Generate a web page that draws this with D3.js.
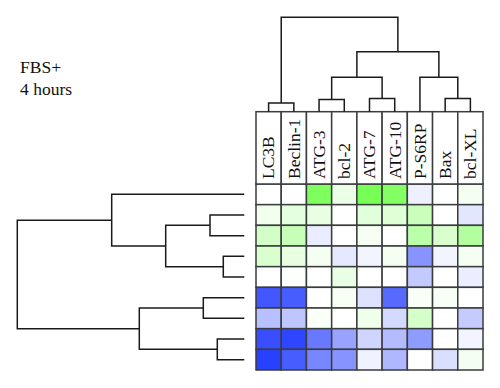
<!DOCTYPE html>
<html>
<head>
<meta charset="utf-8">
<script src="https://cdn.jsdelivr.net/npm/d3@7"></script>
<style>
  html, body { margin: 0; padding: 0; background: #fff; }
  svg { display: block; }
</style>
</head>
<body>
<svg id="chart" width="500" height="388"></svg>
<script>
// ---------------- data ----------------
const titleLines = ["FBS+", "4 hours"];
const columns = ["LC3B", "Beclin-1", "ATG-3", "bcl-2", "ATG-7", "ATG-10", "P-S6RP", "Bax", "bcl-XL"];
const rows = ["r1", "r2", "r3", "r4", "r5", "r6", "r7", "r8", "r9"];
// positive = green (up), negative = blue (down)
const values = [
  [ 0.00,  0.00,  0.95,  0.15,  1.00,  0.92, -0.08,  0.00,  0.08],
  [ 0.10,  0.20,  0.17,  0.00,  0.22,  0.24,  0.40,  0.00, -0.13],
  [ 0.33,  0.42, -0.10,  0.00,  0.06,  0.00,  0.50,  0.28,  0.56],
  [ 0.28,  0.18,  0.08, -0.12, -0.06,  0.08, -0.56, -0.06,  0.08],
  [ 0.00,  0.02,  0.00,  0.16,  0.00,  0.00, -0.28,  0.00, -0.09],
  [-0.88, -0.85,  0.00,  0.06, -0.15, -0.78,  0.05,  0.05,  0.00],
  [-0.33, -0.30,  0.04,  0.00,  0.12, -0.20,  0.32,  0.00, -0.27],
  [-0.92, -0.97, -0.70, -0.48, -0.22, -0.35, -0.52,  0.00, -0.06],
  [-1.00, -0.85, -0.63, -0.56, -0.07, -0.37,  0.00, -0.17,  0.08]
];
// column dendrogram (merge heights)
const colTree = { h: 94.4, children: [
  { h: 8.7, children: [{ name: "LC3B" }, { name: "Beclin-1" }] },
  { h: 60, children: [
    { h: 34.4, children: [
      { h: 12.2, children: [{ name: "ATG-3" }, { name: "bcl-2" }] },
      { h: 13.2, children: [{ name: "ATG-7" }, { name: "ATG-10" }] }
    ]},
    { h: 34.4, children: [
      { name: "P-S6RP" },
      { h: 13.2, children: [{ name: "Bax" }, { name: "bcl-XL" }] }
    ]}
  ]}
]};
// row dendrogram (merge heights)
const rowTree = { h: 227, children: [
  { h: 132.6, children: [
    { name: "r1" },
    { h: 78.6, children: [
      { h: 34.3, children: [{ name: "r2" }, { name: "r3" }] },
      { h: 21, children: [{ name: "r4" }, { name: "r5" }] }
    ]}
  ]},
  { h: 105, children: [
    { h: 41, children: [{ name: "r6" }, { name: "r7" }] },
    { h: 27, children: [{ name: "r8" }, { name: "r9" }] }
  ]}
]};

// ---------------- drawing ----------------
const svg = d3.select("#chart");
const serif = "'Liberation Serif', 'DejaVu Serif', serif";

const x = d3.scaleBand().domain(columns).range([256, 483]).padding(0);
const y = d3.scaleBand().domain(rows).range([184, 370]).padding(0);
const headerTop = 111.7;

const color = d3.scaleLinear()
  .domain([-1, 0, 1])
  .range(["rgb(40,64,255)", "rgb(255,255,255)", "rgb(120,255,85)"])
  .interpolate(d3.interpolateRgb);

// title
svg.append("g").selectAll("text").data(titleLines).join("text")
  .attr("x", 20)
  .attr("y", (d, i) => 73 + i * 22)
  .style("font-family", serif)
  .style("font-size", "17.5px")
  .attr("fill", "#111")
  .text(d => d);

// cells
const cells = [];
rows.forEach((r, i) => columns.forEach((c, j) => cells.push({ r, c, v: values[i][j] })));
svg.append("g").selectAll("rect").data(cells).join("rect")
  .attr("x", d => x(d.c))
  .attr("y", d => y(d.r))
  .attr("width", x.bandwidth())
  .attr("height", y.bandwidth())
  .attr("fill", d => color(d.v))
  .attr("stroke", "#3a3d3d")
  .attr("stroke-width", 1.5);

// header boxes
svg.append("g").selectAll("rect").data(columns).join("rect")
  .attr("x", d => x(d))
  .attr("y", headerTop)
  .attr("width", x.bandwidth())
  .attr("height", y.range()[0] - headerTop)
  .attr("fill", "#fff")
  .attr("stroke", "#3a3d3d")
  .attr("stroke-width", 1.5);

// column labels
svg.append("g").selectAll("text").data(columns).join("text")
  .attr("transform", d => `translate(${x(d) + x.bandwidth() / 2 + 5.8},179) rotate(-90)`)
  .style("font-family", serif)
  .style("font-size", "17.5px")
  .attr("fill", "#111")
  .text(d => d);

// dendrogram helper
function layoutTree(tree, leafPos) {
  const root = d3.hierarchy(tree);
  root.eachAfter(n => {
    if (!n.children) { n.pos = leafPos(n.data.name); n.ht = 0; }
    else {
      n.pos = (n.children[0].pos + n.children[n.children.length - 1].pos) / 2;
      n.ht = n.data.h;
    }
  });
  return root.descendants().filter(n => n.children);
}

// column dendrogram
const hCol = d3.scaleLinear().domain([0, 94.4]).range([headerTop, 17.3]);
const colNodes = layoutTree(colTree, name => x(name) + x.bandwidth() / 2);
svg.append("g").selectAll("path").data(colNodes).join("path")
  .attr("d", n => {
    const [a, b] = n.children;
    return `M${a.pos},${hCol(a.ht)}V${hCol(n.ht)}H${b.pos}V${hCol(b.ht)}`;
  })
  .attr("fill", "none")
  .attr("stroke", "#1a1a1a")
  .attr("stroke-width", 1.5);

// row dendrogram
const hRow = d3.scaleLinear().domain([0, 227]).range([244.3, 17.3]);
const rowNodes = layoutTree(rowTree, name => y(name) + y.bandwidth() / 2);
svg.append("g").selectAll("path").data(rowNodes).join("path")
  .attr("d", n => {
    const [a, b] = n.children;
    return `M${hRow(a.ht)},${a.pos}H${hRow(n.ht)}V${b.pos}H${hRow(b.ht)}`;
  })
  .attr("fill", "none")
  .attr("stroke", "#1a1a1a")
  .attr("stroke-width", 1.5);
</script>
</body>
</html>
